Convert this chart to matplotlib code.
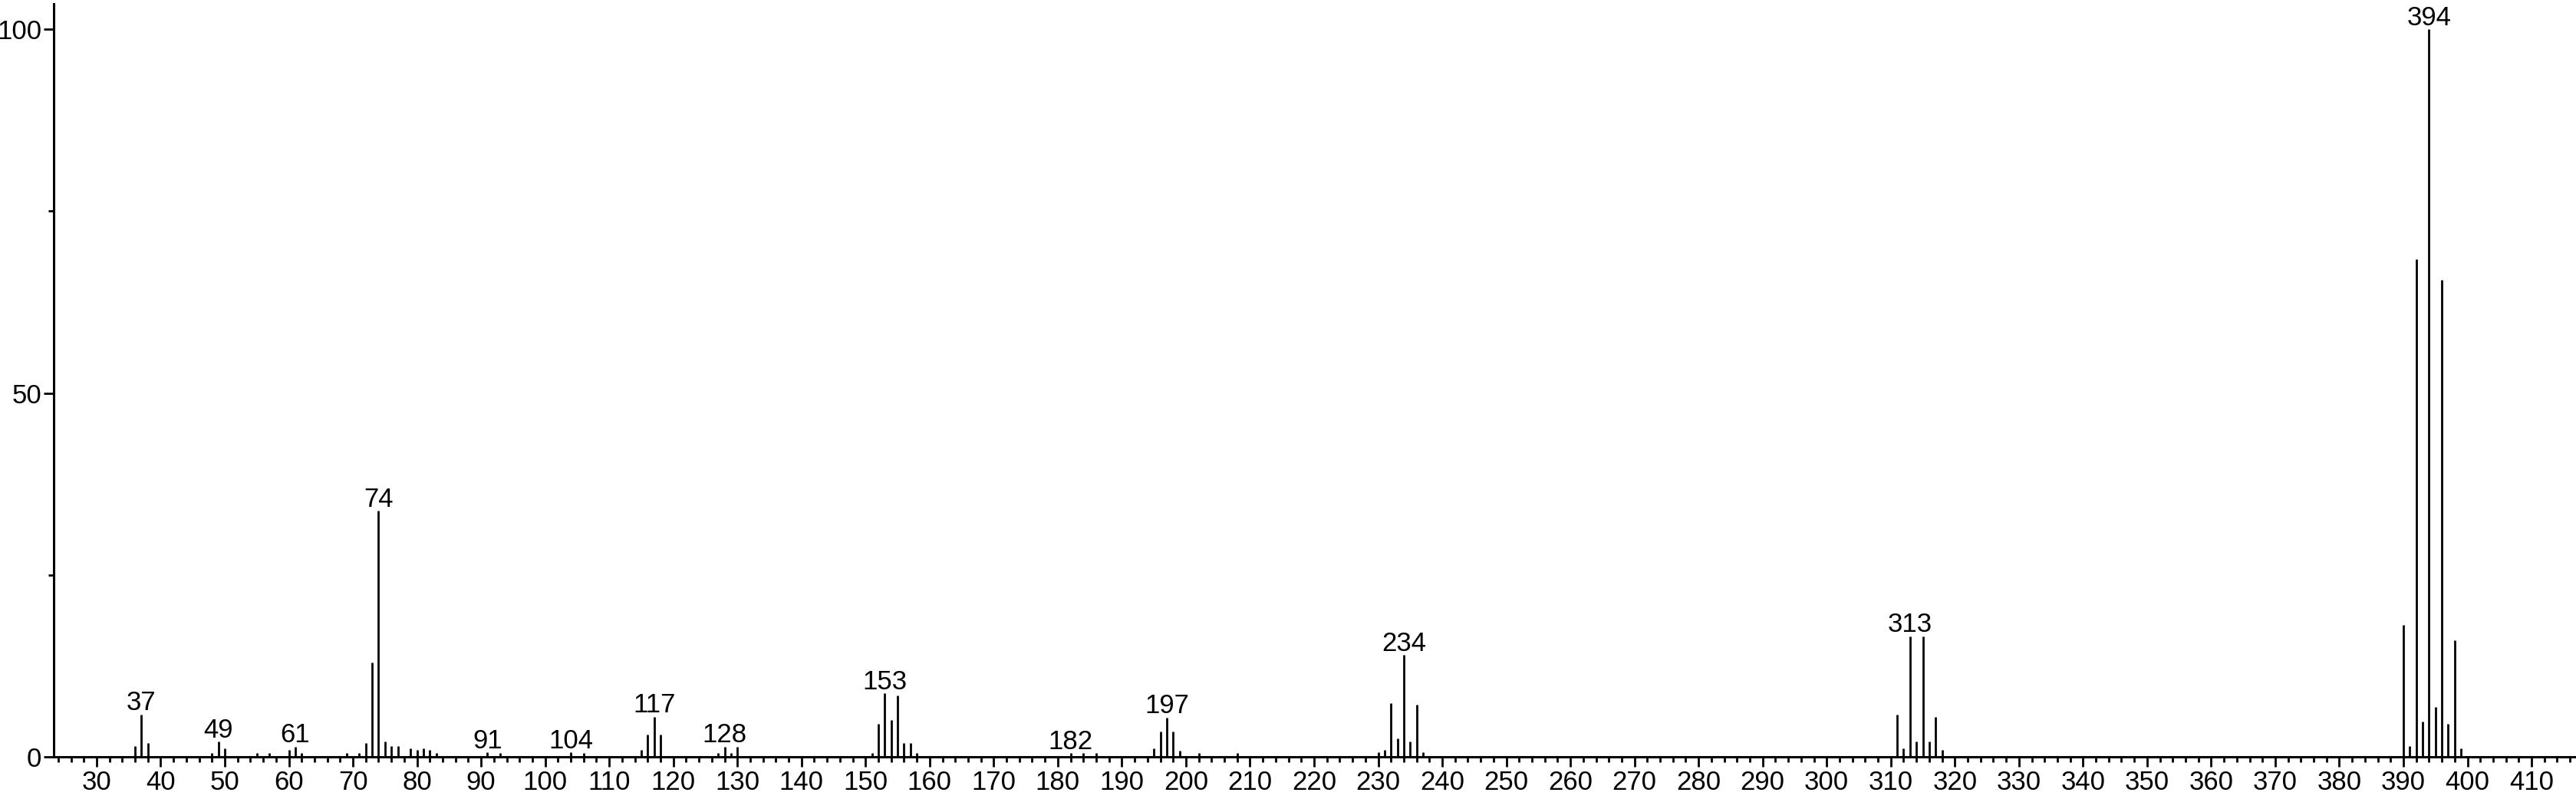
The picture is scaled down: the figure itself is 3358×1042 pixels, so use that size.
import matplotlib
matplotlib.use("Agg")
import matplotlib.pyplot as plt
from matplotlib.ticker import MultipleLocator, FixedLocator
from matplotlib import font_manager as fm

# ---- data (m/z, relative intensity) ----
mz = [36, 37, 38, 48, 49, 50, 55, 57, 60, 61, 62, 69, 71, 72, 73, 74, 75, 76, 77,
      79, 80, 81, 82, 83, 91, 93, 104, 106, 115, 116, 117, 118, 127, 128, 129, 130,
      151, 152, 153, 154, 155, 156, 157, 158, 182, 184, 186, 195, 196, 197, 198, 199,
      202, 208, 230, 231, 232, 233, 234, 235, 236, 237, 311, 312, 313, 314, 315, 316,
      317, 318, 390, 391, 392, 393, 394, 395, 396, 397, 398, 399]
intensity = [1.5, 5.8, 1.9, 0.5, 2.1, 1.2, 0.5, 0.5, 0.9, 1.4, 0.5, 0.5, 0.5, 1.9, 13.0,
             33.8, 2.1, 1.5, 1.5, 1.2, 0.9, 1.2, 0.9, 0.5, 0.6, 0.5, 0.6, 0.5, 0.9, 3.1,
             5.5, 3.1, 0.5, 1.4, 0.5, 1.4, 0.5, 4.5, 8.7, 5.1, 8.4, 1.9, 1.9, 0.5, 0.5,
             0.5, 0.5, 1.2, 3.5, 5.4, 3.5, 0.8, 0.5, 0.5, 0.6, 0.9, 7.4, 2.5, 14.0, 2.1,
             7.2, 0.6, 5.8, 1.2, 16.6, 2.1, 16.6, 2.1, 5.5, 0.9, 18.1, 1.5, 68.4, 4.9,
             100.0, 6.8, 65.6, 4.5, 16.0, 1.2]
labeled_peaks = [37, 49, 61, 74, 91, 104, 117, 128, 153, 182, 197, 234, 313, 394]
y_major_ticks = [0, 50, 100]
y_minor_ticks = [25, 75]

names = {f.name for f in fm.fontManager.ttflist}
font = "Liberation Sans" if "Liberation Sans" in names else "DejaVu Sans"
plt.rcParams["font.family"] = [font, "DejaVu Sans"]

fig = plt.figure(figsize=(33.58, 10.42), dpi=100)
ax = fig.add_axes([70 / 3358, 55 / 1042, 1 - 70 / 3358, (987 - 5) / 1042])

ax.vlines(mz, 0, intensity, color="black", linewidth=2.0)

lookup = dict(zip(mz, intensity))
for p in labeled_peaks:
    ax.annotate(str(p), xy=(p, lookup[p]), xytext=(0, 4), textcoords="offset points",
                ha="center", va="baseline", fontsize=25, color="black",
                annotation_clip=False)

ax.set_xlim(23.3, 416.94)
ax.set_ylim(0, 103.5)

ax.xaxis.set_major_locator(MultipleLocator(10))
ax.xaxis.set_minor_locator(MultipleLocator(2))
ax.yaxis.set_major_locator(FixedLocator(y_major_ticks))
ax.yaxis.set_minor_locator(FixedLocator(y_minor_ticks))

for s in ["top", "right"]:
    ax.spines[s].set_visible(False)
for s in ["left", "bottom"]:
    ax.spines[s].set_linewidth(2.2)
    ax.spines[s].set_color("black")

ax.tick_params(axis="both", which="major", length=9.4, width=2.0, direction="out",
               labelsize=25, colors="black")
ax.tick_params(axis="both", which="minor", length=5, width=2.0, direction="out")
ax.tick_params(axis="x", which="major", pad=3)
ax.tick_params(axis="y", which="major", pad=2)

fig.savefig("out.png", dpi=100, facecolor="white")
